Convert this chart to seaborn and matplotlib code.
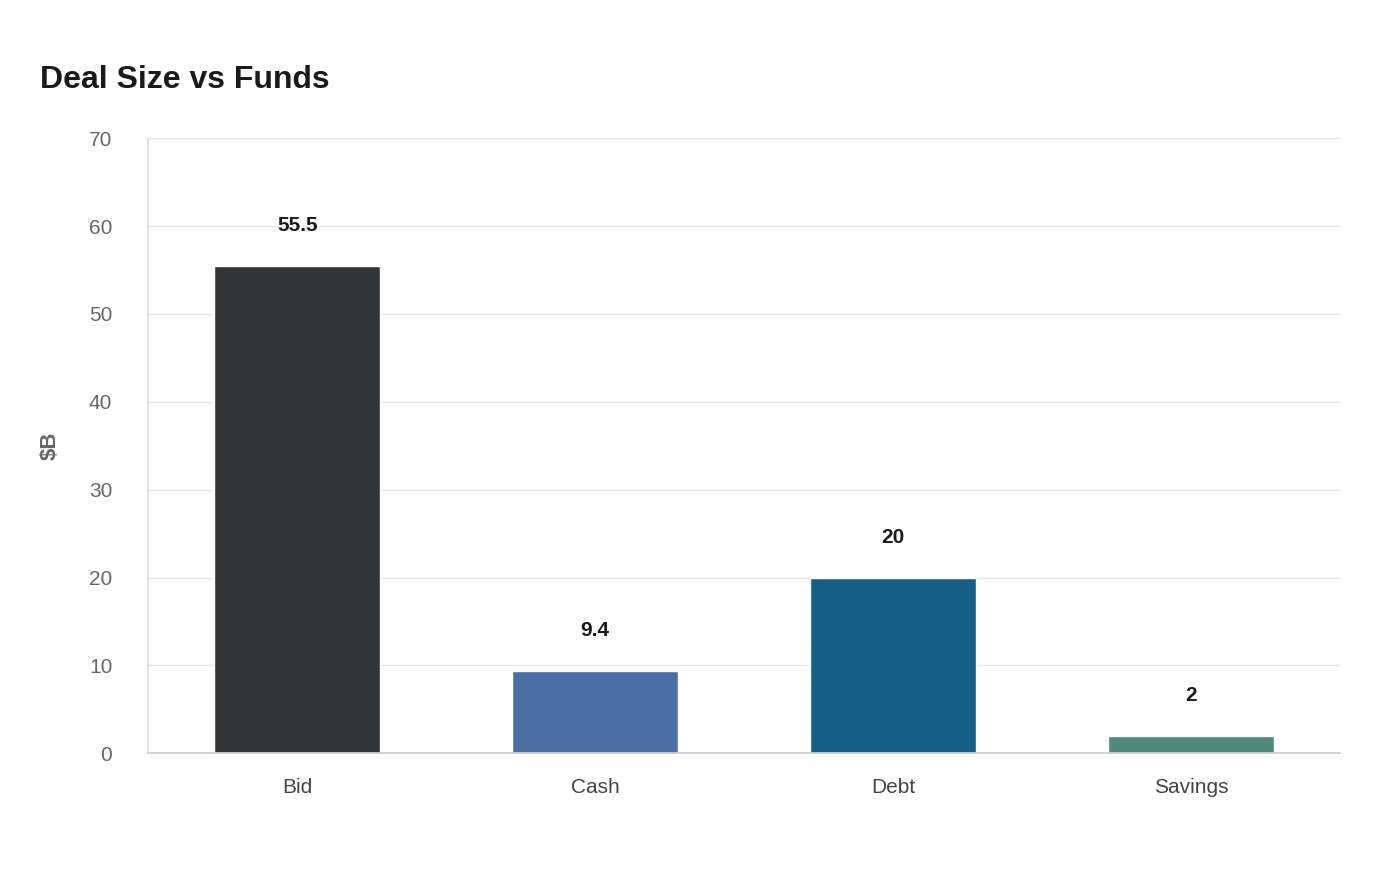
import matplotlib
matplotlib.use("Agg")
import matplotlib.pyplot as plt
import seaborn as sns
import pandas as pd

categories = ["Bid", "Cash", "Debt", "Savings"]
values = [55.5, 9.4, 20, 2]
labels = ["55.5", "9.4", "20", "2"]
colors = ["#2e3638", "#4a6fa5", "#166088", "#4f8a7a"]

sns.set_theme(style="white")
plt.rcParams["font.family"] = ["Liberation Sans", "DejaVu Sans"]

df = pd.DataFrame({"cat": categories, "val": values})
fig = plt.figure(figsize=(14, 8.8), dpi=100)
ax = fig.add_axes([0.106, 0.144, 0.851, 0.699])
sns.barplot(data=df, x="cat", y="val", hue="cat", palette=colors, width=0.557,
            legend=False, ax=ax, saturation=1)

ax.set_ylim(0, 70)
ax.set_yticks(range(0, 71, 10))
ax.grid(axis="y", color="#e6e6e6", linewidth=1)
ax.set_axisbelow(True)
for s in ["top", "right"]:
    ax.spines[s].set_visible(False)
ax.spines["left"].set_color("#dddddd")
ax.spines["bottom"].set_color("#cccccc")
ax.tick_params(axis="y", colors="#666666", labelsize=15, length=10, color="#e6e6e6", pad=16)
ax.tick_params(axis="x", colors="#444444", labelsize=15, length=0, pad=18)
ax.set_xlabel("")
ax.set_ylabel("$B", fontsize=16, fontweight="bold", color="#666666", labelpad=20)

for i, (v, t) in enumerate(zip(values, labels)):
    ax.annotate(t, (i, v), xytext=(0, 22), textcoords="offset points",
                ha="center", va="bottom", fontsize=15, fontweight="bold", color="#1a1a1a")

fig.text(40 / 1400, 1 - 80 / 880, "Deal Size vs Funds", fontsize=23, fontweight="bold",
         color="#1a1a1a", va="center", ha="left")
fig.savefig("out.png", dpi=100, facecolor="white")
